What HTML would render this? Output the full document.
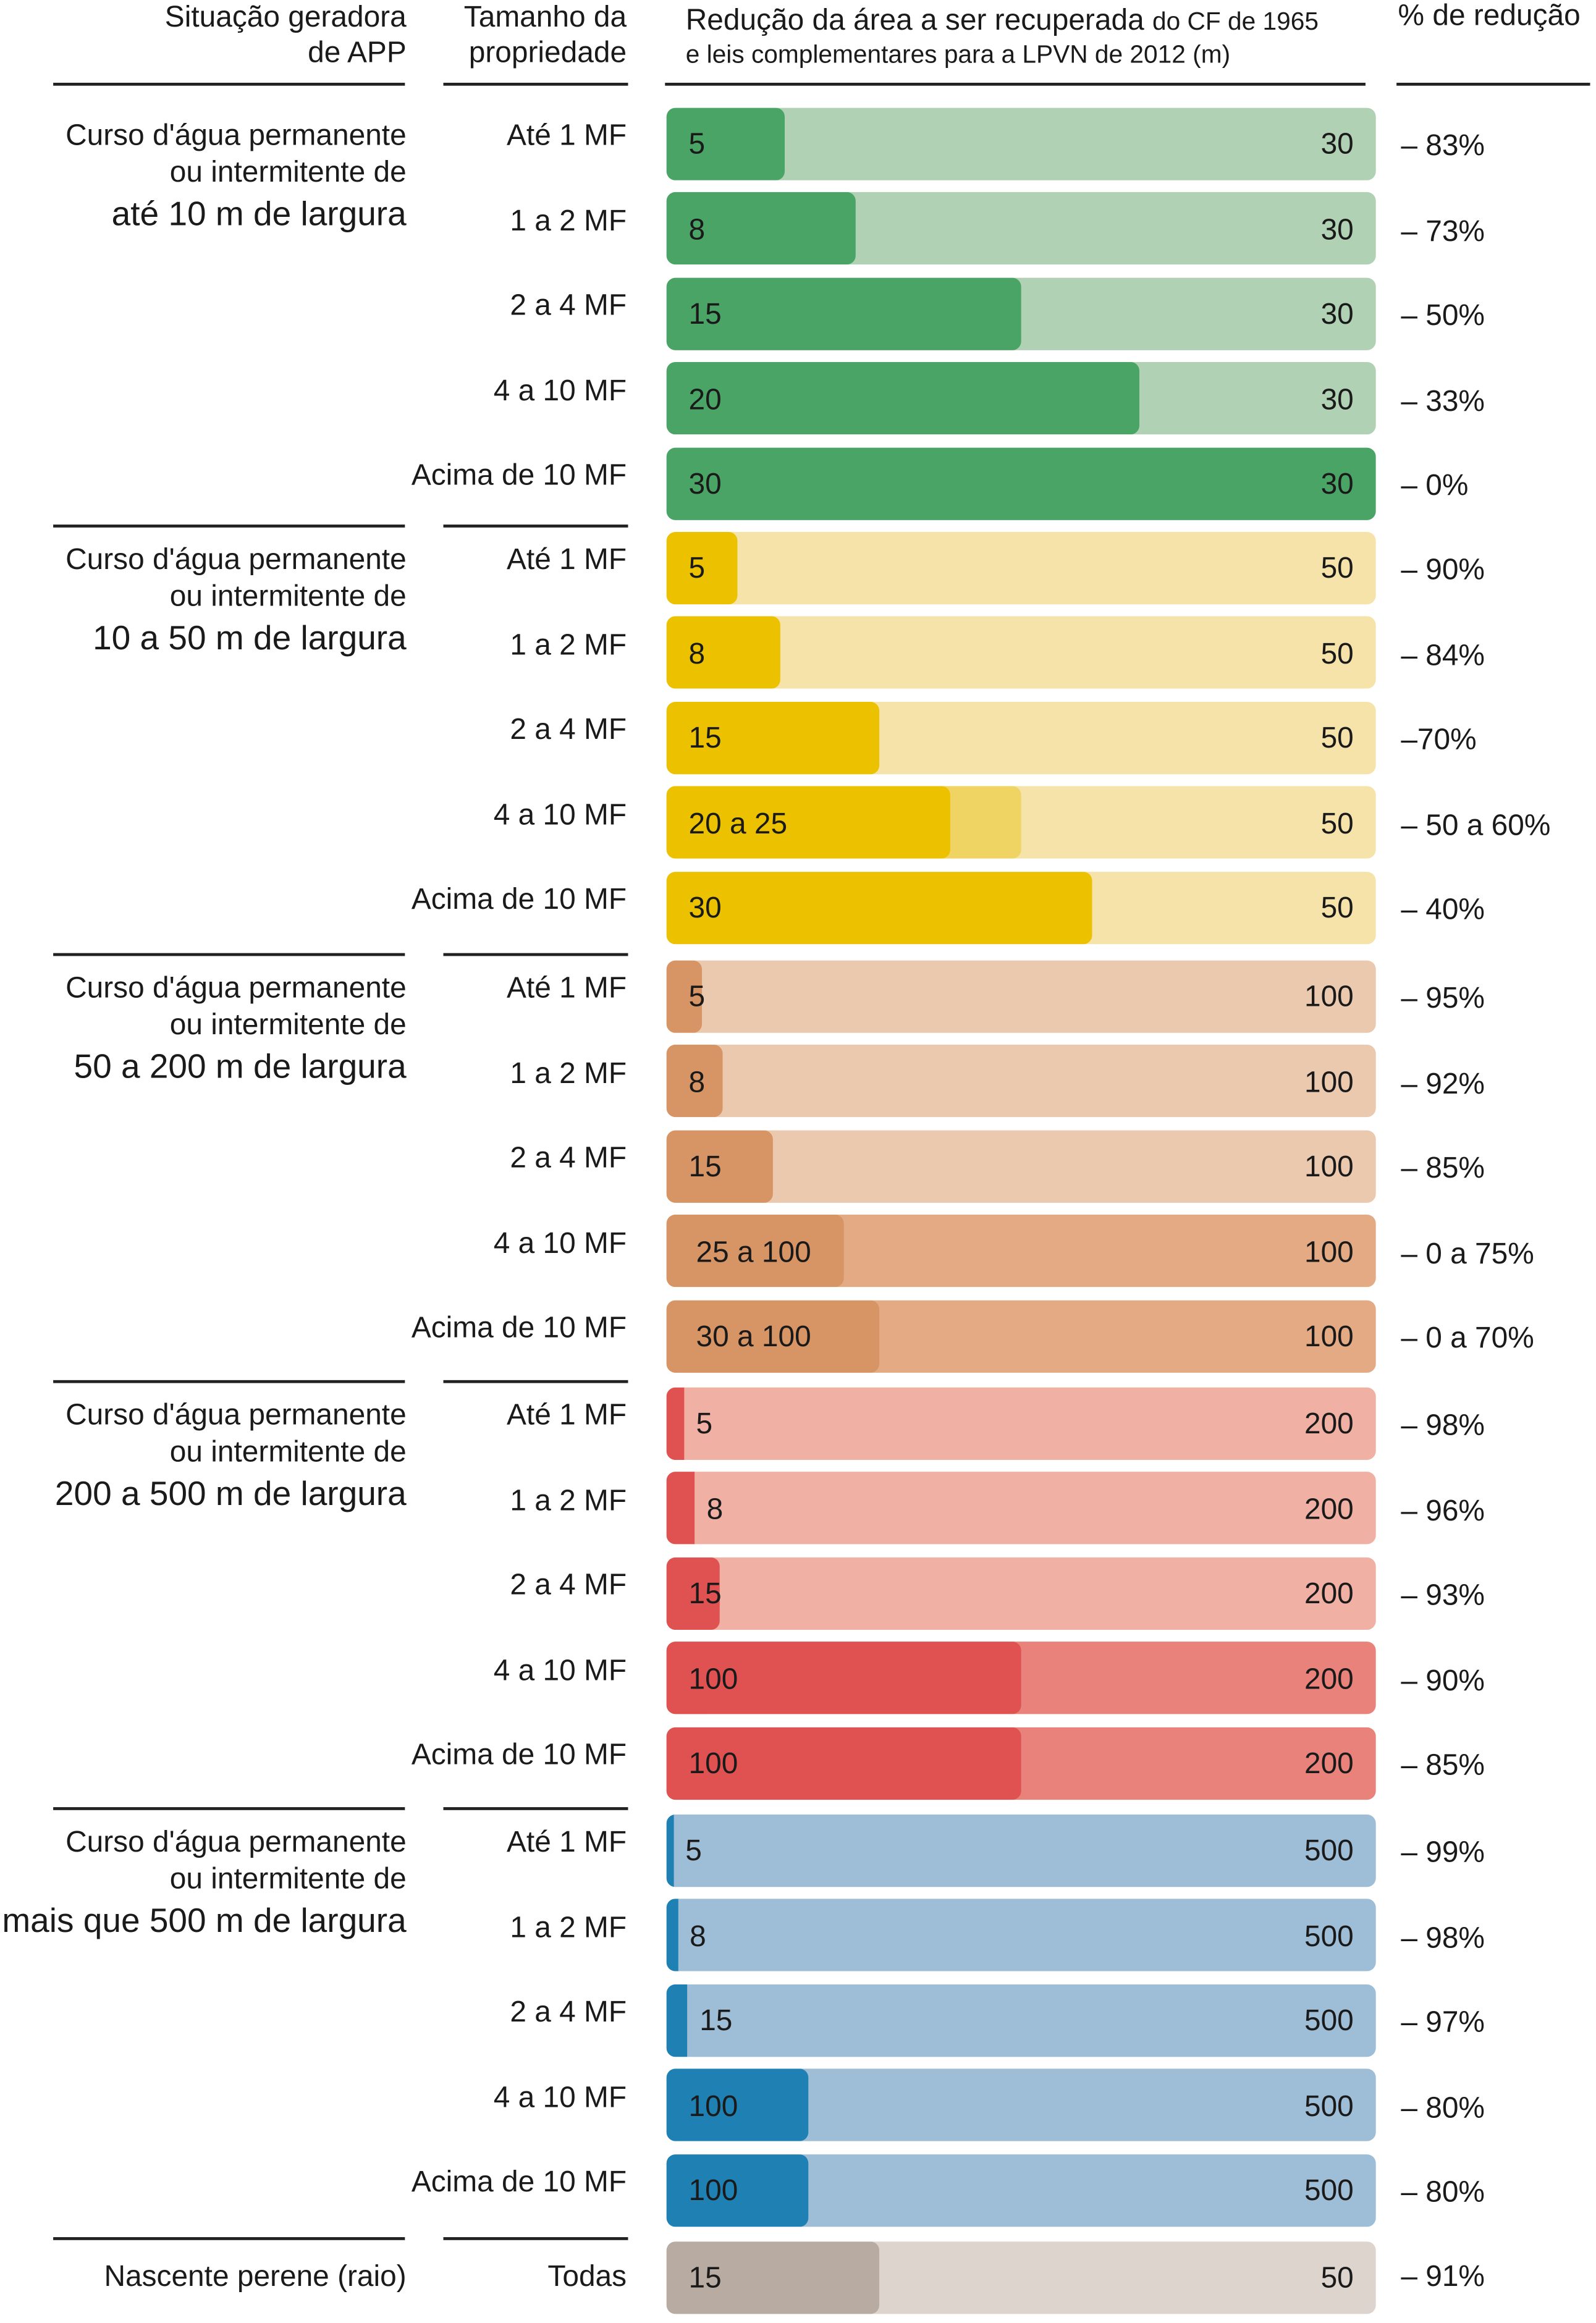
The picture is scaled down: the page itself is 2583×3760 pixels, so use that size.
<!DOCTYPE html>
<html><head><meta charset="utf-8">
<style>
html,body{margin:0;padding:0;background:#fff;}
body{width:2583px;height:3758px;overflow:hidden;}
#root{position:absolute;left:0;top:0;width:1080px;height:1572px;transform:scale(2.3917);transform-origin:0 0;font-family:"Liberation Sans",Arial,sans-serif;color:#1a1a1a;}
.t{position:absolute;white-space:nowrap;line-height:1;transform:translateY(-50%);}
.r{text-align:right;}
.ln{position:absolute;height:2px;background:#222;}
.bar{position:absolute;border-radius:6px;overflow:hidden;}
.seg{position:absolute;top:0;height:100%;border-radius:6px;}
</style></head>
<body>
<div id="root">
  <div class="t r" style="right:805px;top:12px;font-size:20px">Situação geradora</div>
  <div class="t r" style="right:805px;top:36px;font-size:20px">de APP</div>
  <div class="t r" style="right:656px;top:12px;font-size:20px">Tamanho da</div>
  <div class="t r" style="right:656px;top:36px;font-size:20px">propriedade</div>
  <div class="t" style="left:464px;top:14px;font-size:20px">Redução da área a ser recuperada <span style="font-size:17px">do CF de 1965</span></div>
  <div class="t" style="left:464px;top:37px;font-size:17px">e leis complementares para a LPVN de 2012 (m)</div>
  <div class="t" style="left:946px;top:11px;font-size:20px">% de redução</div>
  <div class="ln" style="left:36px;top:56px;width:238px"></div>
  <div class="ln" style="left:300px;top:56px;width:125px"></div>
  <div class="ln" style="left:450px;top:56px;width:474px"></div>
  <div class="ln" style="left:945px;top:56px;width:131px"></div>
</div>
<script>
const groupLabels=[["Curso d'água permanente","ou intermitente de","até 10 m de largura"],["Curso d'água permanente","ou intermitente de","10 a 50 m de largura"],["Curso d'água permanente","ou intermitente de","50 a 200 m de largura"],["Curso d'água permanente","ou intermitente de","200 a 500 m de largura"],["Curso d'água permanente","ou intermitente de","mais que 500 m de largura"]];
const sizes=["Até 1 MF","1 a 2 MF","2 a 4 MF","4 a 10 MF","Acima de 10 MF"];
const groupMax=[30,50,100,200,500];
const minVals=[[5,8,15,20,30],[5,8,15,20,30],[5,8,15,25,30],[5,8,15,100,100],[5,8,15,100,100]];
const rangeVals=[[0,0,0,0,0],[0,0,0,25,0],[0,0,0,100,100],[0,0,0,200,200],[0,0,0,0,0]];
const valueLabels=[["5","8","15","20","30"],["5","8","15","20 a 25","30"],["5","8","15","25 a 100","30 a 100"],["5","8","15","100","100"],["5","8","15","100","100"]];
const pctLabels=[["– 83%","– 73%","– 50%","– 33%","– 0%"],["– 90%","– 84%","–70%","– 50 a 60%","– 40%"],["– 95%","– 92%","– 85%","– 0 a 75%","– 0 a 70%"],["– 98%","– 96%","– 93%","– 90%","– 85%"],["– 99%","– 98%","– 97%","– 80%","– 80%"]];
const lastRow={label:"Nascente perene (raio)",size:"Todas",min:15,max:50,pct:"– 91%"};
const palette=[["#4aa466","#b0d1b3","#b0d1b3"],["#ebc100","#f6e3aa","#f0d463"],["#d79464","#ebc9ae","#e3aa84"],["#e05252","#f0b0a3","#e8827a"],["#1f80b4","#9ebdd6","#9ebdd6"],["#b8aba1","#ddd4ce","#ddd4ce"]];
const root=document.getElementById('root');
const X0=451,W=480,BH=49,groupStart=[97,384,674,963,1252],STEP=57.6;
function xs(v,max){return W*v/max;}
function txt(s,left,right,top,size,name){const d=document.createElement('div');d.className='t';if(right!=null){d.classList.add('r');d.style.right=(1080-right)+'px';}else d.style.left=left+'px';d.style.top=top+'px';d.style.fontSize=size+'px';d.textContent=s;


root.appendChild(d);return d;}
function rule(x,y,w,name){const d=document.createElement('div');d.className='ln';d.style.left=x+'px';d.style.top=y+'px';d.style.width=w+'px';


root.appendChild(d);}
function bar(cy,min,rng,max,col,lab,name){
 const b=document.createElement('div');b.className='bar';b.style.left=X0+'px';b.style.top=(cy-BH/2)+'px';b.style.width=W+'px';b.style.height=BH+'px';b.style.background=col[1];
 
 
 if(rng){const m=document.createElement('div');m.className='seg';m.style.left='0';m.style.width=xs(rng,max)+'px';m.style.background=col[2];
 
 
 b.appendChild(m);}
 const s=document.createElement('div');s.className='seg';s.style.left='0';s.style.width=Math.max(xs(min,max),5)+'px';s.style.background=col[0];if(xs(min,max)<20)s.style.borderRadius='3px 0 0 3px';
 
 
 b.appendChild(s);root.appendChild(b);
 const dw=xs(min,max);let lx=dw<20?X0+dw+8:X0+15;
 if(rng===max && lab.indexOf(' a ')>0) lx=X0+20;
 txt(lab,lx,null,cy+1,20,name+'-min-label');
 txt(String(max),null,916,cy+1,20,name+'-max-label');
}
groupLabels.forEach((gl,g)=>{
 const c0=groupStart[g];
 txt(gl[0],null,275,c0-5,20,'group-label-'+g+'-line1');
 txt(gl[1],null,275,c0+20,20,'group-label-'+g+'-line2');
 txt(gl[2],null,275,c0+48,23,'group-label-'+g+'-line3');
 if(g>0){rule(36,c0-29,238,'group-separator-'+g+'-a');rule(300,c0-29,125,'group-separator-'+g+'-b');}
 sizes.forEach((s,i)=>{
  const cy=c0+i*STEP;
  txt(s,null,424,cy-5,20,'size-label-'+g+'-'+i);
  bar(cy,minVals[g][i],rangeVals[g][i],groupMax[g],palette[g],valueLabels[g][i],'bar-'+g+'-'+i);
  txt(pctLabels[g][i],948,null,cy+2,20,'percent-'+g+'-'+i);
 });
});
const ly=1541;
rule(36,ly-27,238,'group-separator-last-a');rule(300,ly-27,125,'group-separator-last-b');
txt(lastRow.label,null,275,ly,20,'group-label-nascente');
txt(lastRow.size,null,424,ly,20,'size-label-todas');
bar(ly,lastRow.min,0,lastRow.max,palette[5],String(lastRow.min),'bar-nascente');
txt(lastRow.pct,948,null,ly,20,'percent-nascente');
</script>
</body></html>
